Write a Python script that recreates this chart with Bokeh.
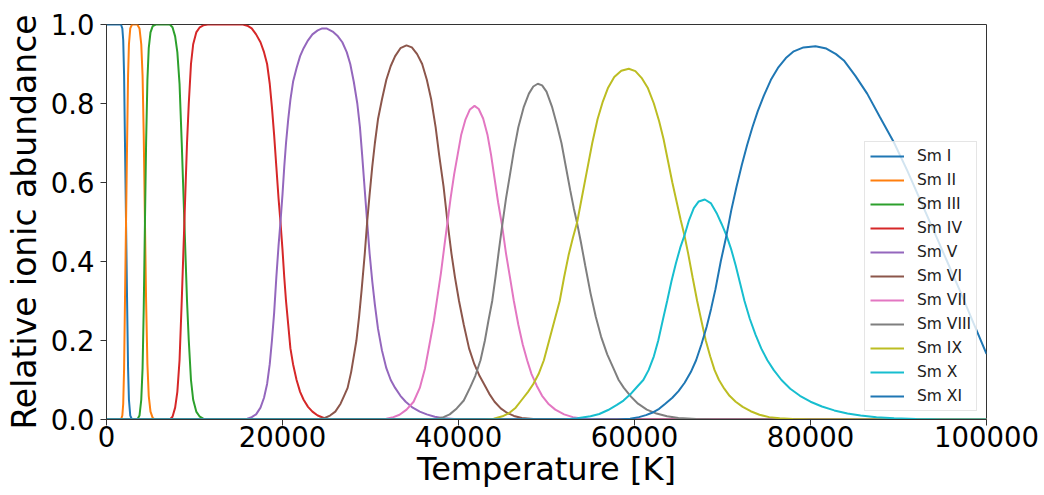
from bokeh.plotting import figure
from bokeh.models import Range1d, FixedTicker, PrintfTickFormatter
from bokeh.embed import file_html
from bokeh.resources import INLINE

ions = ["Sm I", "Sm II", "Sm III", "Sm IV", "Sm V", "Sm VI",
        "Sm VII", "Sm VIII", "Sm IX", "Sm X", "Sm XI"]
colors = ["#1f77b4", "#ff7f0e", "#2ca02c", "#d62728", "#9467bd", "#8c564b",
          "#e377c2", "#7f7f7f", "#bcbd22", "#17becf", "#1f77b4"]

x_ticks = [0, 20000, 40000, 60000, 80000, 100000]
y_ticks = [0.0, 0.2, 0.4, 0.6, 0.8, 1.0]

sm1_t = [0, 1650, 1800, 1900, 2000, 2100, 2220, 2340, 2450, 2550, 2700, 2900, 100000]
sm1_a = [1, 1, 0.99, 0.96, 0.87, 0.7, 0.5, 0.3, 0.13, 0.05, 0.01, 0, 0]

sm2_t = [0, 1650, 1800, 1900, 2000, 2100, 2220, 2340, 2450, 2550, 2700, 2900,
         3500, 3750, 3950, 4100, 4230, 4370, 4500, 4650, 4800, 5000, 5250, 5500, 100000]
sm2_a = [0, 0, 0.01, 0.04, 0.13, 0.3, 0.5, 0.7, 0.87, 0.95, 0.99, 1,
         1, 0.99, 0.95, 0.87, 0.72, 0.5, 0.3, 0.14, 0.06, 0.02, 0.004, 0, 0]

sm3_t = [0, 3500, 3750, 3950, 4100, 4230, 4370, 4500, 4650, 4800, 5000, 5250, 5600,
         7200, 7500, 7800, 8050, 8300, 8550, 8700, 8850, 9000, 9150, 9350, 9600,
         9850, 10200, 10600, 11000, 11500, 100000]
sm3_a = [0, 0, 0.01, 0.05, 0.13, 0.28, 0.5, 0.7, 0.86, 0.94, 0.98, 0.996, 1,
         1, 0.993, 0.97, 0.93, 0.85, 0.7, 0.6, 0.5, 0.4, 0.3, 0.2, 0.1,
         0.05, 0.02, 0.007, 0.002, 0, 0]

sm4_t = [0, 7200, 7500, 7800, 8050, 8300, 8550, 8700, 8850, 9000, 9150, 9350, 9600,
         9850, 10200, 10600, 11000, 11500, 15500, 16000, 16500, 17000, 17500, 17900,
         18250, 18550, 18800, 19050, 19300, 19550, 19770, 20000, 20200, 20400, 20650,
         20900, 21200, 21600, 22000, 22400, 22900, 23400, 24000, 24700, 25500, 100000]
sm4_a = [0, 0, 0.007, 0.03, 0.07, 0.15, 0.3, 0.4, 0.5, 0.6, 0.7, 0.8, 0.9,
         0.95, 0.98, 0.993, 0.998, 1, 1, 0.997, 0.99, 0.975, 0.955, 0.93,
         0.9, 0.85, 0.79, 0.72, 0.64, 0.56, 0.5, 0.43, 0.36, 0.3, 0.24,
         0.18, 0.14, 0.1, 0.07, 0.05, 0.032, 0.02, 0.01, 0.004, 0, 0]

sm5_t = [0, 15500, 16000, 16500, 17000, 17500, 17900, 18250, 18550, 18800, 19050,
         19300, 19550, 19770, 20000, 20200, 20400, 20650, 20900, 21200, 21600, 22000,
         22400, 22900, 23400, 24000, 24510, 25000, 25700, 26300, 26800, 27300, 27700,
         28100, 28500, 28800, 29050, 29350, 29620, 29900, 30200, 30500, 30850, 31300,
         31800, 32300, 32800, 33400, 34000, 34800, 35600, 36400, 37300, 38300, 39500,
         40500, 100000]
sm5_a = [0, 0, 0.002, 0.006, 0.013, 0.03, 0.055, 0.09, 0.14, 0.2, 0.27,
         0.36, 0.44, 0.5, 0.57, 0.64, 0.7, 0.76, 0.81, 0.855, 0.89, 0.92,
         0.94, 0.96, 0.975, 0.985, 0.99, 0.99, 0.982, 0.97, 0.955, 0.93, 0.9,
         0.855, 0.8, 0.74, 0.67, 0.58, 0.5, 0.42, 0.35, 0.29, 0.23, 0.175,
         0.13, 0.1, 0.08, 0.06, 0.045, 0.03, 0.02, 0.013, 0.007, 0.003, 0.001,
         0, 0]

sm6_t = [0, 23500, 24200, 24800, 25400, 26000, 26600, 27000, 27400, 27800, 28100,
         28400, 28700, 29000, 29350, 29620, 29900, 30200, 30500, 30850, 31300, 31800,
         32300, 32800, 33400, 34090, 34700, 35300, 35870, 36400, 36900, 37400, 37800,
         38300, 38750, 39200, 39600, 40060, 40600, 41200, 41800, 42400, 42900, 43500,
         44100, 44800, 45500, 46300, 47200, 48500, 50000, 100000]
sm6_a = [0, 0, 0.002, 0.004, 0.01, 0.02, 0.04, 0.06, 0.08, 0.12, 0.16,
         0.2, 0.26, 0.33, 0.42, 0.5, 0.57, 0.64, 0.7, 0.76, 0.81, 0.86,
         0.895, 0.92, 0.94, 0.947, 0.942, 0.925, 0.9, 0.86, 0.81, 0.74, 0.67,
         0.59, 0.5, 0.42, 0.36, 0.3, 0.24, 0.18, 0.14, 0.11, 0.09, 0.065,
         0.045, 0.028, 0.017, 0.009, 0.004, 0.001, 0, 0]

sm7_t = [0, 31000, 31800, 32600, 33300, 34100, 34900, 35600, 36200, 36700, 37200,
         37600, 38000, 38400, 38750, 39100, 39500, 39900, 40300, 40800, 41300, 41820,
         42300, 42800, 43300, 43700, 44100, 44500, 44960, 45400, 45850, 46290, 46800,
         47300, 47800, 48300, 48900, 49500, 50200, 51000, 52000, 53000, 54200, 56000,
         100000]
sm7_a = [0, 0, 0.002, 0.006, 0.012, 0.025, 0.045, 0.08, 0.13, 0.19, 0.25,
         0.31, 0.37, 0.44, 0.5, 0.56, 0.62, 0.67, 0.72, 0.76, 0.785, 0.794,
         0.786, 0.762, 0.72, 0.67, 0.61, 0.55, 0.49, 0.42, 0.36, 0.3, 0.24,
         0.19, 0.15, 0.115, 0.085, 0.06, 0.04, 0.025, 0.013, 0.006, 0.002, 0,
         0]

sm8_t = [0, 36500, 37500, 38300, 39000, 39800, 40600, 41300, 41900, 42500, 43000,
         43400, 43830, 44200, 44600, 44960, 45400, 45850, 46290, 46800, 47400, 48000,
         48500, 49010, 49500, 50000, 50650, 51200, 51700, 52200, 52700, 53100, 53490,
         53900, 54400, 55000, 55600, 56200, 56900, 57600, 58200, 58790, 59600, 60400,
         61400, 62500, 63700, 65000, 67000, 69000, 100000]
sm8_a = [0, 0, 0.002, 0.006, 0.013, 0.028, 0.048, 0.08, 0.11, 0.15, 0.2,
         0.25, 0.3, 0.36, 0.43, 0.49, 0.56, 0.62, 0.68, 0.74, 0.79, 0.825,
         0.843, 0.85, 0.846, 0.83, 0.79, 0.745, 0.7, 0.64, 0.58, 0.535, 0.496,
         0.45, 0.39, 0.32, 0.26, 0.21, 0.165, 0.13, 0.1, 0.08, 0.058, 0.04,
         0.025, 0.015, 0.008, 0.004, 0.001, 0, 0]

sm9_t = [0, 43000, 44000, 45000, 45800, 46500, 47200, 47900, 48500, 49100, 49700,
         50300, 50900, 51500, 52000, 52500, 53000, 53490, 54000, 54600, 55200, 55800,
         56400, 57000, 57700, 58500, 59350, 60100, 60800, 61500, 62200, 62800, 63300,
         63800, 64300, 64800, 65250, 65680, 66100, 66600, 67120, 67600, 68100, 68600,
         69100, 69600, 70200, 70800, 71500, 72300, 73200, 74200, 75300, 76500, 78000,
         80000, 100000]
sm9_a = [0, 0, 0.002, 0.008, 0.017, 0.03, 0.05, 0.07, 0.09, 0.115, 0.15,
         0.2, 0.25, 0.3, 0.36, 0.415, 0.46, 0.5, 0.56, 0.63, 0.7, 0.76,
         0.805, 0.84, 0.867, 0.883, 0.888, 0.882, 0.865, 0.84, 0.8, 0.755, 0.71,
         0.655, 0.6, 0.55, 0.505, 0.466, 0.42, 0.36, 0.3, 0.25, 0.2, 0.16,
         0.125, 0.1, 0.078, 0.06, 0.045, 0.032, 0.021, 0.012, 0.006, 0.003, 0.001,
         0, 0]

sm10_t = [0, 52000, 53500, 55000, 56000, 57000, 58000, 58750, 59500, 60300, 61000,
          61600, 62200, 62700, 63200, 63710, 64200, 64700, 65200, 65680, 66200, 66740,
          67300, 67990, 68700, 69390, 69900, 70450, 71000, 71500, 72000, 72500, 73100,
          73750, 74400, 75100, 75830, 76700, 77700, 78800, 80000, 81300, 82700, 84200,
          85700, 87500, 89500, 92000, 95000, 100000]
sm10_a = [0, 0, 0.003, 0.008, 0.014, 0.024, 0.037, 0.048, 0.063, 0.083, 0.1,
          0.125, 0.16, 0.2, 0.25, 0.3, 0.35, 0.395, 0.435, 0.466, 0.505, 0.535,
          0.552, 0.557, 0.547, 0.52, 0.495, 0.466, 0.43, 0.39, 0.345, 0.3, 0.255,
          0.215, 0.18, 0.15, 0.125, 0.1, 0.078, 0.06, 0.045, 0.033, 0.023, 0.015,
          0.01, 0.006, 0.003, 0.001, 0, 0]

sm11_t = [0, 58000, 59500, 60500, 61300, 62000, 62800, 63500, 64300, 65000, 65700,
          66400, 67000, 67600, 68200, 68700, 69200, 69800, 70450, 71000, 71600, 72200,
          72800, 73400, 74000, 74700, 75500, 76300, 77200, 78100, 79200, 80570, 81800,
          82900, 83790, 85100, 86440, 87900, 89470, 91000, 92500, 94000, 95530, 97000,
          98500, 100000]
sm11_a = [0, 0, 0.002, 0.006, 0.011, 0.017, 0.027, 0.04, 0.055, 0.072, 0.093,
          0.12, 0.15, 0.19, 0.235, 0.28, 0.33, 0.4, 0.466, 0.53, 0.59, 0.645,
          0.695, 0.74, 0.78, 0.82, 0.86, 0.89, 0.915, 0.932, 0.942, 0.945, 0.939,
          0.925, 0.909, 0.87, 0.825, 0.765, 0.702, 0.63, 0.554, 0.478, 0.40, 0.325,
          0.245, 0.166]

series = [(sm1_t, sm1_a), (sm2_t, sm2_a), (sm3_t, sm3_a), (sm4_t, sm4_a),
          (sm5_t, sm5_a), (sm6_t, sm6_a), (sm7_t, sm7_a), (sm8_t, sm8_a),
          (sm9_t, sm9_a), (sm10_t, sm10_a), (sm11_t, sm11_a)]

FONT = "DejaVu Sans"

p = figure(width=1044, height=495, output_backend="svg", toolbar_location=None,
           x_range=Range1d(0, 100000), y_range=Range1d(0, 1),
           min_border_left=106, min_border_right=58, min_border_top=24,
           min_border_bottom=76)
p.background_fill_color = "white"
p.border_fill_color = "white"
p.outline_line_color = "#333333"
p.outline_line_width = 1
p.xgrid.visible = False
p.ygrid.visible = False

for (t, a), name, c in zip(series, ions, colors):
    p.line(t, a, line_color=c, line_width=2, legend_label=name)

for ax in (p.xaxis[0], p.yaxis[0]):
    ax.axis_line_color = "#333333"
    ax.major_tick_line_color = "#333333"
    ax.major_tick_out = 6
    ax.major_tick_in = 0
    ax.minor_tick_out = 0
    ax.minor_tick_in = 0
    ax.major_label_text_font = FONT
    ax.major_label_text_font_size = "27.5px"
    ax.major_label_text_color = "black"
    ax.axis_label_text_font = FONT
    ax.axis_label_text_font_style = "normal"
    ax.axis_label_text_color = "black"

p.xaxis[0].ticker = FixedTicker(ticks=x_ticks)
p.xaxis[0].formatter = PrintfTickFormatter(format="%d")
p.xaxis[0].major_label_standoff = 0
p.xaxis[0].axis_label = "Temperature [K]"
p.xaxis[0].axis_label_text_font_size = "32px"
p.xaxis[0].axis_label_standoff = 0

p.yaxis[0].ticker = FixedTicker(ticks=y_ticks)
p.yaxis[0].formatter = PrintfTickFormatter(format="%.1f")
p.yaxis[0].major_label_standoff = 6
p.yaxis[0].axis_label = "Relative ionic abundance"
p.yaxis[0].axis_label_text_font_size = "33px"
p.yaxis[0].axis_label_standoff = 4

lg = p.legend[0]
lg.location = (758, 8)
lg.orientation = "vertical"
lg.margin = 0
lg.padding = 5
lg.spacing = 6
lg.glyph_width = 34
lg.glyph_height = 18
lg.label_height = 18
lg.label_standoff = 13
lg.label_text_font = FONT
lg.label_text_font_size = "15.5px"
lg.label_text_color = "#222222"
lg.label_text_baseline = "middle"
lg.border_line_color = "#cccccc"
lg.border_line_width = 1
lg.background_fill_color = "white"
lg.background_fill_alpha = 0.8

open("out.html", "w").write(file_html(p, INLINE))
